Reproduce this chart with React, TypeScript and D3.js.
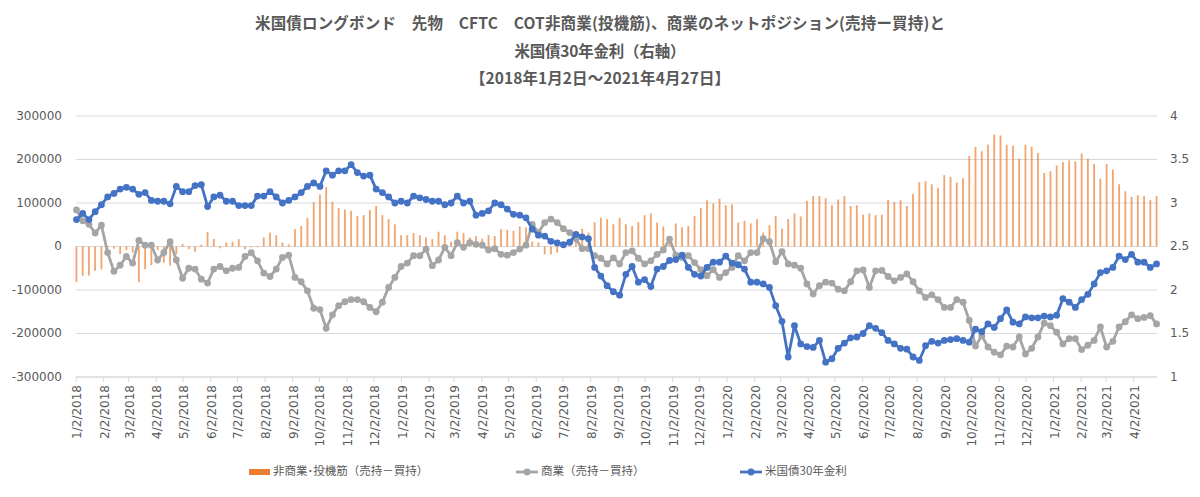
import React from 'react';
import * as d3 from 'd3';

const startDate = new Date(2018, 0, 2);
const axisEndDate = new Date(2021, 3, 28);

const titleLines = [
  '米国債ロングボンド　先物　CFTC　COT非商業(投機筋)、商業のネットポジション(売持ー買持)と',
  '米国債30年金利（右軸）',
  '【2018年1月2日～2021年4月27日】',
];
const titleWidths = [690, 171, 260];

const legendLabels = ['非商業･投機筋（売持－買持）', '商業（売持－買持）', '米国債30年金利'];

const leftTicks = [300000, 200000, 100000, 0, -100000, -200000, -300000];
const rightTicks = [4, 3.5, 3, 2.5, 2, 1.5, 1];

// weekly (Tuesday) values, 2018-01-02 .. 2021-04-27
const nonCommercial = [
  -82000, -67000, -67000, -56000, -53000, -2000, -5000, -17000, -8000, -14000,
  -82000, -52000, -43000, -8000, -37000, -44000, -18000, 6000, -6000, -12000,
  4000, 33000, 17000, -4000, 9000, 11000, 17000, -6000, -2000, -2000,
  21000, 32000, 26000, 9000, 5000, 40000, 47000, 66000, 102000, 120000,
  137000, 103000, 88000, 85000, 82000, 70000, 72000, 84000, 93000, 72000,
  63000, 51000, 26000, 26000, 31000, 26000, 21000, 17000, 34000, 26000,
  11000, 34000, 31000, 21000, 24000, 18000, 26000, 24000, 40000, 38000,
  36000, 46000, 44000, 11000, 9000, -18000, -18000, -14000, 2000, 5000,
  17000, 41000, 32000, 56000, 66000, 63000, 51000, 66000, 51000, 47000,
  56000, 72000, 76000, 55000, 46000, 8000, 53000, 44000, 47000, 70000,
  89000, 106000, 99000, 110000, 95000, 97000, 55000, 59000, 53000, 63000,
  32000, 49000, 70000, 41000, 63000, 76000, 69000, 105000, 116000, 116000,
  111000, 95000, 108000, 116000, 93000, 95000, 73000, 76000, 72000, 73000,
  107000, 102000, 106000, 93000, 121000, 148000, 150000, 143000, 135000, 164000,
  160000, 147000, 157000, 208000, 229000, 219000, 234000, 257000, 255000, 234000,
  232000, 202000, 234000, 229000, 215000, 169000, 173000, 186000, 194000, 198000,
  196000, 214000, 202000, 190000, 156000, 190000, 177000, 143000, 127000, 114000,
  118000, 116000, 107000, 116000,
];

const commercial = [
  84000, 59000, 51000, 31000, 49000, -14000, -57000, -43000, -23000, -38000,
  14000, 3000, 3000, -31000, -14000, 11000, -31000, -73000, -50000, -52000,
  -75000, -84000, -52000, -46000, -56000, -50000, -48000, -23000, -14000, -33000,
  -61000, -69000, -52000, -25000, -20000, -71000, -81000, -102000, -142000, -145000,
  -188000, -157000, -136000, -127000, -122000, -122000, -127000, -140000, -150000, -128000,
  -94000, -71000, -46000, -38000, -21000, -21000, -6000, -44000, -31000, -2000,
  -21000, 9000, -2000, 9000, 5000, 3000, -8000, -5000, -18000, -20000,
  -14000, -6000, 3000, 51000, 32000, 55000, 63000, 55000, 41000, 32000,
  18000, -5000, -5000, -21000, -27000, -40000, -26000, -40000, -14000, -10000,
  -27000, -40000, -33000, -18000, -8000, 17000, -20000, -25000, -21000, -37000,
  -53000, -67000, -53000, -71000, -60000, -48000, -21000, -33000, -14000, -14000,
  18000, 11000, -35000, -12000, -40000, -43000, -50000, -86000, -109000, -90000,
  -82000, -84000, -98000, -102000, -81000, -56000, -54000, -94000, -56000, -55000,
  -69000, -79000, -71000, -63000, -81000, -102000, -117000, -111000, -122000, -140000,
  -140000, -122000, -128000, -170000, -229000, -205000, -231000, -243000, -249000, -229000,
  -231000, -208000, -247000, -234000, -208000, -176000, -182000, -197000, -224000, -212000,
  -212000, -237000, -227000, -216000, -185000, -231000, -218000, -185000, -173000, -157000,
  -166000, -163000, -159000, -178000,
];

const yield30 = [
  2.81, 2.88, 2.81, 2.90, 2.98, 3.07, 3.11, 3.16, 3.18, 3.16,
  3.10, 3.12, 3.03, 3.02, 3.02, 2.99, 3.19, 3.13, 3.13, 3.20,
  3.21, 2.96, 3.07, 3.09, 3.02, 3.02, 2.97, 2.97, 2.97, 3.08,
  3.08, 3.13, 3.07, 3.00, 3.03, 3.07, 3.12, 3.19, 3.23, 3.19,
  3.37, 3.32, 3.37, 3.37, 3.44, 3.35, 3.31, 3.32, 3.16, 3.12,
  3.07, 3.00, 3.02, 3.00, 3.08, 3.06, 3.04, 3.02, 3.02, 2.98,
  3.00, 3.08, 3.00, 3.02, 2.86, 2.88, 2.91, 3.00, 2.98, 2.93,
  2.87, 2.86, 2.83, 2.70, 2.63, 2.62, 2.56, 2.54, 2.52, 2.55,
  2.64, 2.61, 2.59, 2.26, 2.16, 2.05, 1.98, 1.94, 2.18, 2.27,
  2.09, 2.12, 2.04, 2.24, 2.27, 2.34, 2.35, 2.40, 2.26, 2.18,
  2.16, 2.26, 2.32, 2.32, 2.39, 2.31, 2.29, 2.24, 2.09, 2.09,
  2.07, 2.03, 1.82, 1.64, 1.23, 1.59, 1.38, 1.35, 1.34, 1.42,
  1.17, 1.21, 1.33, 1.39, 1.45, 1.46, 1.50, 1.59, 1.56, 1.51,
  1.42, 1.38, 1.33, 1.32, 1.23, 1.19, 1.36, 1.41, 1.39, 1.42,
  1.43, 1.44, 1.42, 1.40, 1.55, 1.52, 1.61, 1.57, 1.67, 1.77,
  1.63, 1.61, 1.69, 1.68, 1.68, 1.70, 1.69, 1.71, 1.90, 1.86,
  1.80, 1.89, 1.95, 2.07, 2.20, 2.22, 2.26, 2.39, 2.35, 2.41,
  2.32, 2.32, 2.26, 2.30,
];

const ORANGE = '#ED7D31';
const GRAY = '#A5A5A5';
const BLUE = '#4472C4';
const TEXT = '#595959';
const GRID = '#D9D9D9';

export default function App() {
  const W = 1200;
  const H = 497;
  const plotL = 76;
  const plotR = 1157;
  const plotT = 116;
  const plotB = 377;

  const dates = yield30.map((_, i) => d3.timeDay.offset(startDate, 7 * i));
  const x = d3.scaleTime().domain([startDate, axisEndDate]).range([plotL, plotR]);
  const yL = d3.scaleLinear().domain([-300000, 300000]).range([plotB, plotT]);
  const yR = d3.scaleLinear().domain([1, 4]).range([plotB, plotT]);
  const px = (d: Date) => x(d3.timeHour.offset(d, 12));

  const monthTicks = d3.range(0, 40).map((m) => new Date(2018, m, 2));
  const fmt = (d: Date) => `${d.getMonth() + 1}/${d.getDate()}/${d.getFullYear()}`;

  const grayLine = d3
    .line<number>()
    .x((_, i) => px(dates[i]))
    .y((v) => yL(v));
  const blueLine = d3
    .line<number>()
    .x((_, i) => px(dates[i]))
    .y((v) => yR(v));

  const numFont = '"DejaVu Sans", Verdana, sans-serif';
  const jpFont = '"Noto Sans CJK JP", "Noto Sans", sans-serif';

  return (
    <svg
      width={W}
      height={H}
      style={{ position: 'absolute', left: 0, top: 0, background: '#fff' }}
    >
      <rect x={0} y={0} width={W} height={H} fill="#fff" />
      {titleLines.map((t, i) => (
        <text
          key={i}
          x={600}
          y={25 + i * 27.5}
          textAnchor="middle"
          dominantBaseline="middle"
          fontFamily={jpFont}
          fontWeight="bold"
          fontSize={15.5}
          fill={TEXT}
          textLength={titleWidths[i]}
        >
          {t}
        </text>
      ))}

      {/* gridlines */}
      {leftTicks.map((t) => (
        <line key={t} x1={plotL} x2={plotR} y1={yL(t)} y2={yL(t)} stroke={GRID} strokeWidth={1} />
      ))}

      {/* left axis labels */}
      {leftTicks.map((t) => (
        <text
          key={'l' + t}
          x={62}
          y={yL(t)}
          textAnchor="end"
          dominantBaseline="middle"
          fontFamily={numFont}
          fontSize={12}
          fill={TEXT}
        >
          {t}
        </text>
      ))}
      {/* right axis labels */}
      {rightTicks.map((t) => (
        <text
          key={'r' + t}
          x={1170}
          y={yR(t)}
          textAnchor="start"
          dominantBaseline="middle"
          fontFamily={numFont}
          fontSize={12}
          fill={TEXT}
        >
          {t}
        </text>
      ))}

      {/* x axis */}
      <line x1={plotL} x2={plotR} y1={plotB} y2={plotB} stroke={GRID} strokeWidth={1} />
      {monthTicks.map((d, i) => (
        <g key={'t' + i} transform={`translate(${x(d)},0)`}>
          <line y1={plotB} y2={plotB + 5} stroke={GRID} strokeWidth={1} />
          <text
            transform={`translate(1.5,${plotB + 8}) rotate(-90)`}
            textAnchor="end"
            dominantBaseline="middle"
            fontFamily={numFont}
            fontSize={12}
            fill={TEXT}
          >
            {fmt(d)}
          </text>
        </g>
      ))}

      {/* bars */}
      {nonCommercial.map((v, i) => {
        const cx = px(dates[i]);
        const y0 = yL(0);
        const y1 = yL(v);
        return (
          <rect
            key={'b' + i}
            x={cx - 0.9}
            width={1.8}
            y={Math.min(y0, y1)}
            height={Math.abs(y1 - y0)}
            fill={ORANGE}
            opacity={0.7}
          />
        );
      })}

      {/* commercial line */}
      <path d={grayLine(commercial) || ''} fill="none" stroke={GRAY} strokeWidth={2.8} strokeLinejoin="round" />
      {commercial.map((v, i) => (
        <circle key={'g' + i} cx={px(dates[i])} cy={yL(v)} r={3.4} fill={GRAY} />
      ))}

      {/* yield line */}
      <path d={blueLine(yield30) || ''} fill="none" stroke={BLUE} strokeWidth={2.8} strokeLinejoin="round" />
      {yield30.map((v, i) => (
        <circle key={'y' + i} cx={px(dates[i])} cy={yR(v)} r={3.4} fill={BLUE} />
      ))}

      {/* legend */}
      <g fontFamily={jpFont} fontSize={11.5} fill={TEXT}>
        <rect x={249} y={469} width={21} height={6} fill={ORANGE} />
        <text x={273} y={472} dominantBaseline="middle">{legendLabels[0]}</text>
        <line x1={516} x2={538} y1={472} y2={472} stroke={GRAY} strokeWidth={2.8} />
        <circle cx={527} cy={472} r={3.4} fill={GRAY} />
        <text x={541} y={472} dominantBaseline="middle">{legendLabels[1]}</text>
        <line x1={740} x2={762} y1={472} y2={472} stroke={BLUE} strokeWidth={2.8} />
        <circle cx={751} cy={472} r={3.4} fill={BLUE} />
        <text x={765} y={472} dominantBaseline="middle">{legendLabels[2]}</text>
      </g>
    </svg>
  );
}
